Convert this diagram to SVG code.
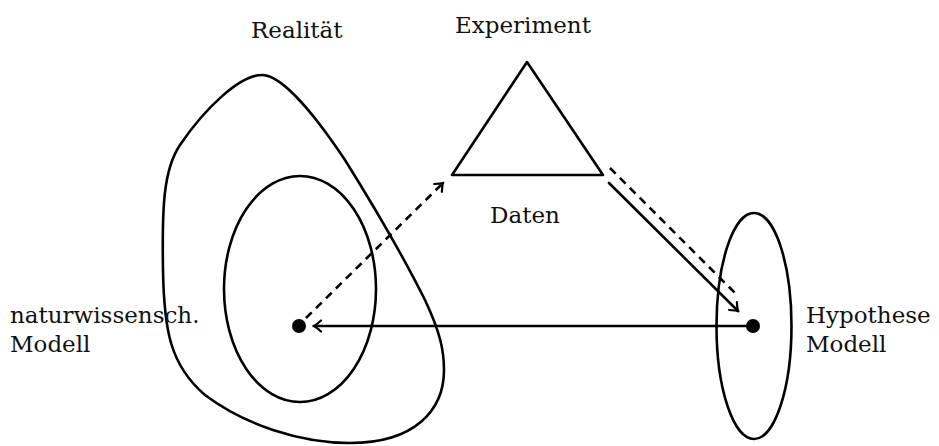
<svg xmlns="http://www.w3.org/2000/svg" width="939" height="446" viewBox="0 0 939 446">
<style>
.ln{fill:none;stroke:#000;stroke-width:2.6;stroke-linecap:round;stroke-linejoin:round}
.ds{stroke-dasharray:8 6;stroke-linecap:butt}
.t{font-family:"DejaVu Serif","Liberation Serif",serif;font-size:23px;fill:#111}
</style>
<defs>
<marker id="ah" viewBox="-10 -7 12 14" markerWidth="12" markerHeight="14" refX="0" refY="0" orient="auto" markerUnits="userSpaceOnUse">
<path d="M-7,-5.5 Q-2,-1 0,0 Q-2,1 -7,5.5" fill="none" stroke="#000" stroke-width="2.2" stroke-linecap="round"/>
</marker>
</defs>
<rect width="939" height="446" fill="#fff"/>
<g id="realitaet">
<path class="ln" d="M262,75 C282,75 315,115 345,160 C370,200 400,250 425,300 C440,332 444,350 444,370 C444,410 415,443 350,443 C300,443 245,425 205,395 C170,365 164,330 163,270 C162,210 163,170 180,145 C205,108 240,75 262,75 Z"/>
<text class="t" x="251" y="38">Realität</text>
</g>
<g id="naturwiss-modell">
<ellipse class="ln" cx="300" cy="289" rx="76" ry="113"/>
<circle cx="299" cy="326" r="7" fill="#000"/>
<text class="t" x="10" y="323">naturwissensch.</text>
<text class="t" x="10" y="352">Modell</text>
</g>
<g id="experiment">
<polygon class="ln" points="527,62 452,175 603,175"/>
<text class="t" x="455" y="33">Experiment</text>
<text class="t" x="490" y="223">Daten</text>
</g>
<g id="hypothese">
<ellipse class="ln" cx="754" cy="326" rx="37.5" ry="113"/>
<circle cx="753" cy="326" r="7" fill="#000"/>
<text class="t" x="806" y="323">Hypothese</text>
<text class="t" x="806" y="352">Modell</text>
</g>
<g id="connectors">
<line class="ln ds" x1="306" y1="318" x2="443" y2="183" marker-end="url(#ah)"/>
<line class="ln" x1="609" y1="183" x2="738" y2="311" marker-end="url(#ah)"/>
<line class="ln ds" x1="610" y1="168" x2="738" y2="296"/>
<line class="ln" x1="753" y1="326" x2="314" y2="326" marker-end="url(#ah)"/>
</g>
</svg>
